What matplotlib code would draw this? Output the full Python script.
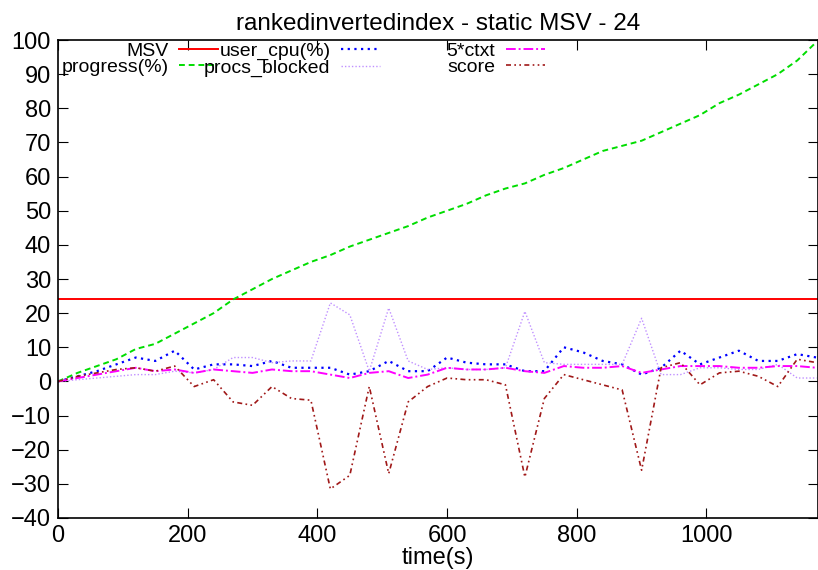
#!/usr/bin/env python3

import numpy
import matplotlib
matplotlib.use('Agg')
import matplotlib.pyplot as plt
from matplotlib.lines import Line2D

plt.rcParams['font.family'] = ['Liberation Sans', 'DejaVu Sans']
plt.rcParams['font.size'] = 15

# samples every 30 s
time_s = list(range(0, 1200, 30))
msv_level = 24
progress = [0, 2.5, 4.5, 6.5, 9.5, 11, 14, 17, 20, 24, 27, 30, 32.5, 35, 37, 39.5,
            41.5, 43.5, 45.5, 48, 50, 52, 54.5, 56.5, 58, 60.5, 62.5, 65, 67.5, 69,
            70.5, 73, 75.5, 78, 81.5, 84, 87, 90, 94, 99.5]
user_cpu = [0, 1.5, 3, 5, 7, 6, 9, 3.5, 5, 5, 4.5, 6, 4, 4, 4, 2, 3, 6, 3, 3,
            7, 5.5, 5, 5, 3, 3, 10, 8.5, 6, 5, 2, 4, 9, 5, 7, 9, 6, 6, 8, 7]
procs_blocked = [0, 0.5, 1, 1.5, 2, 2, 3, 2.5, 3.5, 7, 7, 5.5, 6, 6, 23, 19.5, 3, 21.5,
                 6, 3.5, 4, 3.5, 3.5, 4, 20.5, 5.5, 5, 5, 5, 5, 18.5, 2, 2, 4, 4,
                 3.5, 3.5, 5, 1, 1]
ctxt5 = [0, 1, 2, 3, 4, 3, 3.5, 2.5, 3.5, 3, 2.5, 3.5, 3, 3, 2, 1, 2.5, 3, 1, 2,
         4, 3.5, 3.5, 4, 3, 2.5, 4.5, 4, 4, 4.5, 2.5, 3.5, 4.5, 4.5, 4.5, 4, 4,
         4.5, 4.5, 4]
score = [0, 1.5, 2.5, 3.5, 4, 3, 4.5, -1.5, 0.5, -6, -7, -1.5, -5, -5.5, -31.5,
         -27.5, -1.5, -27, -6, -1.5, 1, 0.5, 0.5, -1, -28, -5, 2, 0.5, -1, -2.5,
         -26, 4, 5.5, -1, 2.5, 3, 1.5, -1.5, 6.5, 5.5]

styles = {
    'MSV': dict(color='#ff0000', lw=1.4),
    'progress(%)': dict(color='#00dd00', lw=1.4, linestyle=(0, (3, 2))),
    'user_cpu(%)': dict(color='#0000ff', lw=1.6, linestyle=(0, (1, 2))),
    'procs_blocked': dict(color='#c090ff', lw=1.0, linestyle=(0, (1, 1.5))),
    '5*ctxt': dict(color='#ff00ff', lw=1.4, linestyle=(0, (5, 1.5, 1, 1.5))),
    'score': dict(color='#a01818', lw=1.2, linestyle=(0, (3, 2, 1, 2, 1, 2))),
}

fig = plt.figure(figsize=(8.18, 5.70), dpi=100)
ax = fig.add_axes([58/818, 1 - 518/570, 1 - 58/818, (518 - 40)/570])

# MSV is a flat line across the whole run
ax.axhline(msv_level, **styles['MSV'])
ax.plot(time_s, progress, **styles['progress(%)'])
ax.plot(time_s, user_cpu, **styles['user_cpu(%)'])
ax.plot(time_s, procs_blocked, **styles['procs_blocked'])
ax.plot(time_s, ctxt5, **styles['5*ctxt'])
ax.plot(time_s, score, **styles['score'])

ax.set_xlim(0, 1172)
ax.set_ylim(-40, 100)
ax.set_xticks(range(0, 1001, 200))
ax.set_yticks(range(-40, 101, 10))
ax.tick_params(direction='in', length=7, top=True, right=True, pad=5,
               labelsize=17)
for s in ax.spines.values():
    s.set_linewidth(1.2)

ax.set_title('rankedinvertedindex - static MSV - 24', pad=7, fontsize=17.5)
ax.set_xlabel('time(s)', labelpad=0, fontsize=17)


def key(names, right_px):
    handles = [Line2D([], [], **styles[n]) for n in names]
    return ax.legend(handles, names, loc='upper right',
                     bbox_to_anchor=((right_px - 58) / 760, 1.0),
                     markerfirst=False, frameon=False, handlelength=2.0,
                     handletextpad=0.55, labelspacing=-0.05, borderpad=0.05,
                     borderaxespad=0.05, fontsize=14)


ax.add_artist(key(['MSV', 'progress(%)'], 220))
ax.add_artist(key(['user_cpu(%)', 'procs_blocked'], 382))
key(['5*ctxt', 'score'], 547)

fig.savefig('out.png', dpi=100)
